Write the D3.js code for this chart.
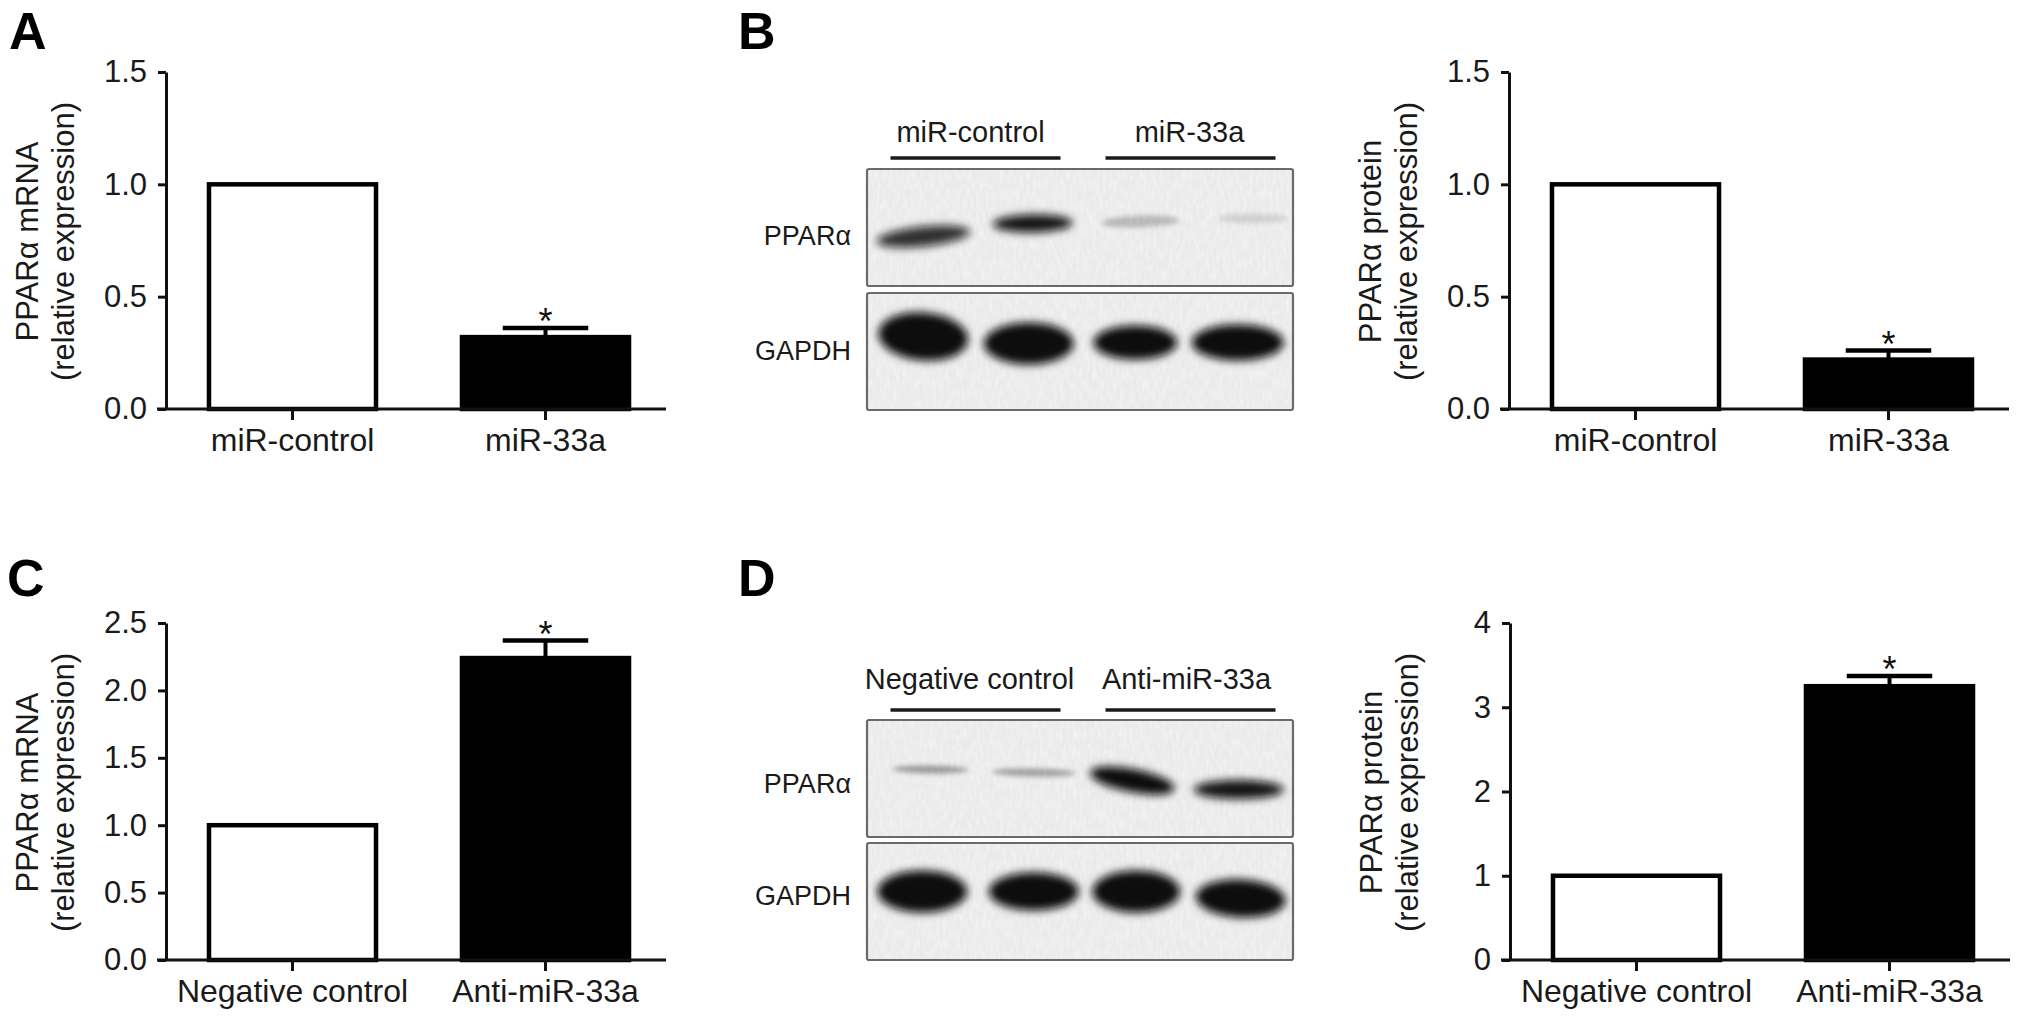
<!DOCTYPE html>
<html><head><meta charset="utf-8">
<script src="https://cdn.jsdelivr.net/npm/d3@7"></script>
<style>
html,body{margin:0;padding:0;background:#fff;}
svg{display:block;font-family:"Liberation Sans",Arial,Helvetica,sans-serif;}
</style></head><body>
<svg id="chart" width="2031" height="1023"></svg>
<script>
// ---------- data ----------
const categoriesAB = ["miR-control", "miR-33a"];
const categoriesCD = ["Negative control", "Anti-miR-33a"];
const mrnaA = [1.0, 0.32];      const mrnaAErr = [0, 0.04];
const proteinB = [1.0, 0.22];   const proteinBErr = [0, 0.04];
const mrnaC = [1.0, 2.24];      const mrnaCErr = [0, 0.13];
const proteinD = [1.0, 3.25];   const proteinDErr = [0, 0.12];
const ticks15 = [0, 0.5, 1.0, 1.5];
const ticks25 = [0, 0.5, 1.0, 1.5, 2.0, 2.5];
const ticks4 = [0, 1, 2, 3, 4];
const mrnaTitle = ["PPARα mRNA", "(relative expression)"];
const proteinTitle = ["PPARα protein", "(relative expression)"];
const significance = ["", "*"];
const blotRows = ["PPARα", "GAPDH"];
const pparBandsB = [0.85, 0.97, 0.22, 0.12];   // relative band intensity
const gapdhBandsB = [1, 1, 1, 1];
const pparBandsD = [0.35, 0.32, 1, 0.97];
const gapdhBandsD = [1, 1, 1, 1];
const panelLetters = ["A", "B", "C", "D"];

// ---------- drawing ----------
const svg = d3.select("#chart");
const defs = svg.append("defs");
defs.append("filter").attr("id","blur").attr("x","-50%").attr("y","-100%").attr("width","200%").attr("height","300%")
  .append("feGaussianBlur").attr("stdDeviation", 4.5);
defs.append("filter").attr("id","blurS").attr("x","-50%").attr("y","-100%").attr("width","200%").attr("height","300%")
  .append("feGaussianBlur").attr("stdDeviation", 2.5);
const grain = defs.append("filter").attr("id","grain").attr("x","0").attr("y","0").attr("width","100%").attr("height","100%");
grain.append("feTurbulence").attr("type","fractalNoise").attr("baseFrequency","0.3 0.1").attr("numOctaves",2).attr("seed",3).attr("result","n");
grain.append("feColorMatrix").attr("in","n").attr("type","matrix")
  .attr("values","0 0 0 0 1  0 0 0 0 1  0 0 0 0 1  0 0 0 1.4 -0.55").attr("result","w");
grain.append("feComposite").attr("in","w").attr("in2","SourceGraphic").attr("operator","in");

function barPanel(o) {
  const g = svg.append("g");
  const y = d3.scaleLinear().domain([0, o.max]).range([o.yBot, o.yTop]);
  const x = d3.scaleBand().domain(o.cats).range([o.ax, o.ax + 506]).paddingInner(0.324).paddingOuter(0.162);
  const data = o.cats.map((c, i) => ({c, v: o.vals[i], e: o.errs[i], s: significance[i], i}));

  g.selectAll("rect.bar").data(data).join("rect").attr("class","bar")
    .attr("x", d => x(d.c) + 2).attr("width", x.bandwidth() - 4)
    .attr("y", d => y(d.v)).attr("height", d => y(0) - y(d.v))
    .attr("fill", d => d.i === 0 ? "#fff" : "#000")
    .attr("stroke", "#000").attr("stroke-width", 4.5);

  const eb = data.filter(d => d.e > 0);
  const cx = d => x(d.c) + x.bandwidth() / 2;
  g.selectAll("line.err").data(eb).join("line").attr("class","err")
    .attr("x1", cx).attr("x2", cx).attr("y1", d => y(d.v)).attr("y2", d => y(d.v + d.e))
    .attr("stroke", "#000").attr("stroke-width", 4);
  g.selectAll("line.cap").data(eb).join("line").attr("class","cap")
    .attr("x1", d => cx(d) - x.bandwidth() / 4).attr("x2", d => cx(d) + x.bandwidth() / 4)
    .attr("y1", d => y(d.v + d.e)).attr("y2", d => y(d.v + d.e))
    .attr("stroke", "#000").attr("stroke-width", 4.5);
  g.selectAll("text.sig").data(eb).join("text").attr("class","sig")
    .attr("x", cx).attr("y", d => y(d.v + d.e) + 6).attr("text-anchor","middle")
    .attr("font-size", 36).attr("fill","#111").text(d => d.s);

  const ya = g.append("g").attr("transform", `translate(${o.ax},0)`)
    .call(d3.axisLeft(y).tickValues(o.ticks).tickFormat(d3.format(o.fmt)).tickSize(8).tickPadding(11).tickSizeOuter(0));
  ya.select(".domain").attr("stroke","#111").attr("stroke-width",3);
  ya.selectAll(".tick line").attr("stroke","#111").attr("stroke-width",3);
  ya.selectAll(".tick text").attr("font-size",31).attr("fill","#1a1a1a").attr("font-family","Liberation Sans, Arial, sans-serif");

  const xa = g.append("g").attr("transform", `translate(0,${o.yBot})`)
    .call(d3.axisBottom(x).tickSize(11).tickPadding(8));
  xa.select(".domain").remove();
  xa.selectAll(".tick line").attr("stroke","#111").attr("stroke-width",3);
  xa.selectAll(".tick text").attr("font-size",32).attr("fill","#1a1a1a").attr("font-family","Liberation Sans, Arial, sans-serif");
  g.append("line").attr("x1", o.ax - 9).attr("x2", o.ax + 500).attr("y1", o.yBot).attr("y2", o.yBot)
    .attr("stroke","#111").attr("stroke-width",3);

  const cy = (o.yTop + o.yBot) / 2 + 1;
  o.title.forEach((t, k) => {
    g.append("text").attr("transform", `translate(${o.ax - 128 + k * 36},${cy}) rotate(-90)`)
      .attr("text-anchor","middle").attr("font-size",31).attr("fill","#1a1a1a").text(t);
  });
}

barPanel({ax:166, yTop:72, yBot:409, max:1.5, ticks:ticks15, fmt:".1f", cats:categoriesAB, vals:mrnaA, errs:mrnaAErr, title:mrnaTitle});
barPanel({ax:1509, yTop:72, yBot:409, max:1.5, ticks:ticks15, fmt:".1f", cats:categoriesAB, vals:proteinB, errs:proteinBErr, title:proteinTitle});
barPanel({ax:166, yTop:623, yBot:960, max:2.5, ticks:ticks25, fmt:".1f", cats:categoriesCD, vals:mrnaC, errs:mrnaCErr, title:mrnaTitle});
barPanel({ax:1510, yTop:623, yBot:960, max:4, ticks:ticks4, fmt:"d", cats:categoriesCD, vals:proteinD, errs:proteinDErr, title:proteinTitle});

// western blot panels
function blotPanel(o) {
  const g = svg.append("g");
  const x0 = 867, x1 = 1293;
  const lane = d3.scalePoint().domain(d3.range(4)).range([x0, x1]).padding(0.5);
  const grp = d3.scalePoint().domain(o.groups).range([x0, x1]).padding(0.5);
  o.groups.forEach((gname, k) => {
    const c = grp(gname);
    g.append("text").attr("x", c + o.labelDx[k]).attr("y", o.labelY).attr("text-anchor","middle")
      .attr("font-size",29).attr("fill","#1a1a1a").text(gname);
    g.append("line").attr("x1", c - 83 + (k ? 2 : 0)).attr("x2", c + 87 + (k ? 2 : 0))
      .attr("y1", o.lineY).attr("y2", o.lineY).attr("stroke","#1a1a1a").attr("stroke-width",3.5);
  });
  const rows = [{name: blotRows[0], top: o.boxY[0], bands: o.ppar, shape: o.pparShape},
                {name: blotRows[1], top: o.boxY[1], bands: o.gapdh, shape: o.gapdhShape}];
  rows.forEach(r => {
    const h = 117;
    g.append("rect").attr("x", x0).attr("y", r.top).attr("width", x1 - x0).attr("height", h)
      .attr("rx", 2).attr("fill", "#ebebeb");
    g.append("rect").attr("x", x0).attr("y", r.top).attr("width", x1 - x0).attr("height", h)
      .attr("fill", "#fff").attr("filter", "url(#grain)").attr("opacity", 0.6);
    const cyc = r.top + h / 2;
    g.selectAll(null).data(r.bands).join("ellipse")
      .attr("cx", (d, i) => lane(i) + r.shape[i][0])
      .attr("cy", (d, i) => cyc + r.shape[i][1])
      .attr("rx", (d, i) => r.shape[i][2] / 2)
      .attr("ry", (d, i) => r.shape[i][3] / 2)
      .attr("transform", (d, i) => `rotate(${r.shape[i][4]},${lane(i) + r.shape[i][0]},${cyc + r.shape[i][1]})`)
      .attr("fill", "#0a0a0a").attr("fill-opacity", d => d)
      .attr("filter", (d, i) => r.shape[i][3] < 14 ? "url(#blurS)" : "url(#blur)");
    g.append("rect").attr("x", x0).attr("y", r.top).attr("width", x1 - x0).attr("height", h)
      .attr("rx", 2).attr("fill", "none").attr("stroke", "#6a6a6a").attr("stroke-width", 2.2);
    g.append("text").attr("x", 851).attr("y", cyc + r.shape.labelDy).attr("text-anchor","end")
      .attr("font-size",27).attr("fill","#1a1a1a").text(r.name);
  });
}

// shape per lane: [dx, dy, width, height, rotation]
const pparShapeB = [[3, 9, 94, 20, -6], [6, -4, 80, 18, -1], [7, -6, 78, 12, -2], [13, -9, 70, 10, 0]];
pparShapeB.labelDy = 17;
const gapdhShapeB = [[3, -15, 90, 48, 5], [2, -8, 90, 42, 0], [2, -9, 84, 34, 0], [-2, -9, 92, 36, 0]];
gapdhShapeB.labelDy = 8;
const pparShapeD = [[10, -9, 76, 8, 1], [7, -6, 84, 8, 1], [-1, 2, 86, 23, 11], [-1, 11, 90, 19, 0]];
pparShapeD.labelDy = 14;
const gapdhShapeD = [[2, -10, 90, 42, 0], [7, -10, 90, 38, 0], [3, -10, 88, 42, 0], [1, -3, 90, 38, 3]];
gapdhShapeD.labelDy = 3;

blotPanel({groups: categoriesAB, labelDx: [-3, 3], labelY: 142, lineY: 158, boxY: [169, 293],
  ppar: pparBandsB, gapdh: gapdhBandsB, pparShape: pparShapeB, gapdhShape: gapdhShapeB});
blotPanel({groups: categoriesCD, labelDx: [-4, 0], labelY: 689, lineY: 710, boxY: [720, 843],
  ppar: pparBandsD, gapdh: gapdhBandsD, pparShape: pparShapeD, gapdhShape: gapdhShapeD});

// panel letters
const letterPos = [[9, 49], [738, 49], [7, 596], [738, 596]];
svg.selectAll("text.letter").data(panelLetters).join("text").attr("class","letter")
  .attr("x", (d, i) => letterPos[i][0]).attr("y", (d, i) => letterPos[i][1])
  .attr("font-size", 52).attr("font-weight", "bold").attr("fill", "#000").text(d => d);
</script>
</body></html>
